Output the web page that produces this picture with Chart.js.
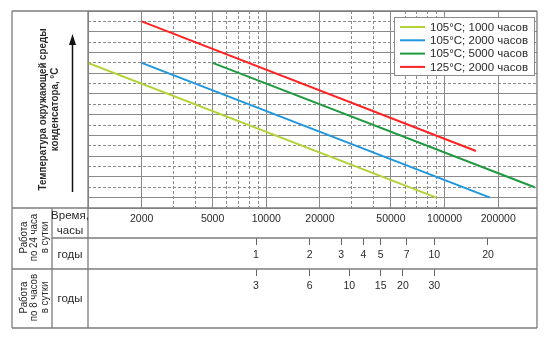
<!DOCTYPE html>
<html>
<head>
<meta charset="utf-8">
<script src="https://cdn.jsdelivr.net/npm/chart.js@4.4.1/dist/chart.umd.min.js"></script>
<style>
  html, body { margin: 0; padding: 0; background: #fff; }
  #wrap { width: 550px; height: 340px; position: relative; }
</style>
</head>
<body>
<div id="wrap"><canvas id="chart"></canvas></div>
<script>
// ось времени, часы (логарифмическая)
const hourMin = 1000;
const hourMax = 330000;
const hourTicks = [1000, 2000, 3000, 4000, 5000, 6000, 7000, 8000, 9000,
    10000, 20000, 30000, 40000, 50000, 60000, 70000, 80000, 90000, 100000, 200000];
const hourLabels = [2000, 5000, 10000, 20000, 50000, 100000, 200000];

// годы работы
const years24 = [1, 2, 3, 4, 5, 7, 10, 20];
const years8 = [3, 6, 10, 15, 20, 30];
const hoursPerYear24 = 8760;
const hoursPerYear8 = 2920;

// температура, шаг сетки 5 °C
const tempMin = 35;
const tempMax = 130;
const tempStep = 5;

// серии
const seriesNames = ['105°C; 1000 часов', '105°C; 2000 часов', '105°C; 5000 часов', '125°C; 2000 часов'];
const seriesHours = [[1000, 90000], [2000, 180000], [5000, 320000], [2000, 150000]];
const seriesTemps = [[105, 40], [105, 40], [105, 45], [125, 62.5]];
const seriesColors = ['#b2d235', '#1e96dc', '#1f9a40', '#ff2222'];

const gridColor = '#8a8a8a';
const lineColor = '#7c7c7c';
const textColor = '#2a2a2a';
const FONT = '"Liberation Sans", Arial, sans-serif';

Chart.defaults.font.family = FONT;
Chart.defaults.color = textColor;

function isMajor(v) {
    const m = Math.round(v / Math.pow(10, Math.floor(Math.log10(v) + 1e-9)));
    return m === 1 || m === 2 || m === 5;
}

// сетка: пунктир для промежуточных линий
function xDash(ctx) {
    if (!ctx.tick) return [];
    return isMajor(ctx.tick.value) ? [] : [3, 2];
}
function yDash(ctx) {
    if (!ctx.tick) return [];
    const level = Math.round((ctx.tick.value - tempMin) / tempStep);
    if (level === 0 || ctx.tick.value >= tempMax) return [];
    return level % 2 === 0 ? [3, 2] : [];
}

const datasets = seriesNames.map((name, i) => ({
    label: name,
    data: seriesHours[i].map((h, j) => ({x: h, y: seriesTemps[i][j]})),
    borderColor: seriesColors[i],
    backgroundColor: seriesColors[i],
    borderWidth: 2,
    pointRadius: 0,
    fill: false,
    xAxisID: 'x',
    yAxisID: 'y'
}));

// вертикальный текст, sq - сжатие вдоль строки
function vText(ctx, text, x, y, sq) {
    ctx.save();
    ctx.translate(x, y);
    ctx.rotate(-Math.PI / 2);
    ctx.scale(sq || 1, 1);
    ctx.textAlign = 'center';
    ctx.textBaseline = 'middle';
    ctx.fillText(text, 0, 0);
    ctx.restore();
}

function hLine(ctx, x1, x2, y) {
    ctx.beginPath(); ctx.moveTo(x1, y); ctx.lineTo(x2, y); ctx.stroke();
}
function vLine(ctx, x, y1, y2) {
    ctx.beginPath(); ctx.moveTo(x, y1); ctx.lineTo(x, y2); ctx.stroke();
}

// легенда в правом верхнем углу
const legendPlugin = {
    id: 'boxLegend',
    afterDatasetsDraw(chart) {
        const ctx = chart.ctx;
        const a = chart.chartArea;
        const w = 141, h = 59;
        const left = a.right - 2 - w, top = a.top + 6;
        ctx.save();
        ctx.fillStyle = '#fff';
        ctx.fillRect(left, top, w, h);
        ctx.strokeStyle = '#8c8c8c';
        ctx.lineWidth = 1;
        ctx.strokeRect(left + 0.5, top + 0.5, w - 1, h - 1);
        ctx.font = '11.5px ' + FONT;
        ctx.textBaseline = 'middle';
        ctx.textAlign = 'left';
        chart.data.datasets.forEach((ds, i) => {
            const y = top + 10 + i * 13.3;
            ctx.strokeStyle = ds.borderColor;
            ctx.lineWidth = 2;
            hLine(ctx, left + 6, left + 31, y);
            ctx.fillStyle = textColor;
            ctx.fillText(ds.label, left + 36, y + 0.5);
        });
        ctx.restore();
    }
};

// рамка таблицы и подписи
const tablePlugin = {
    id: 'table',
    afterDraw(chart) {
        const ctx = chart.ctx;
        const a = chart.chartArea;
        const x2 = chart.scales.x2, x3 = chart.scales.x3;
        const L = 12, C = 52;
        const bottom = x3.bottom;
        ctx.save();
        ctx.strokeStyle = lineColor;
        ctx.lineWidth = 1.3;
        hLine(ctx, L, a.right, a.top);
        hLine(ctx, L, a.right, a.bottom);
        hLine(ctx, C, a.right, x2.top);
        hLine(ctx, L, a.right, x3.top);
        hLine(ctx, L, a.right, bottom);
        vLine(ctx, L, a.top, bottom);
        vLine(ctx, C, a.bottom, bottom);
        vLine(ctx, a.left, a.top, bottom);
        vLine(ctx, a.right, a.top, bottom);

        ctx.fillStyle = textColor;
        ctx.font = 'bold 10.5px ' + FONT;
        const midY = (a.top + a.bottom) / 2;
        vText(ctx, 'Температура окружающей среды', 43.5, midY, 0.93);
        vText(ctx, 'конденсатора, °С', 55, midY, 0.93);

        // стрелка
        ctx.strokeStyle = '#111';
        ctx.fillStyle = '#111';
        ctx.lineWidth = 1.5;
        vLine(ctx, 72.5, a.bottom - 16, a.top + 32);
        ctx.beginPath();
        ctx.moveTo(72.5, a.top + 23);
        ctx.lineTo(69, a.top + 34);
        ctx.lineTo(76, a.top + 34);
        ctx.closePath();
        ctx.fill();

        ctx.fillStyle = textColor;
        ctx.font = '11px ' + FONT;
        const r1 = (a.bottom + x3.top) / 2 - 1;
        vText(ctx, 'Работа', 23.5, r1, 0.88);
        vText(ctx, 'по 24 часа', 34, r1, 0.88);
        vText(ctx, 'в сутки', 44.5, r1, 0.88);
        const r2 = (x3.top + bottom) / 2 - 1;
        vText(ctx, 'Работа', 23.5, r2, 0.88);
        vText(ctx, 'по 8 часов', 34, r2, 0.88);
        vText(ctx, 'в сутки', 44.5, r2, 0.88);

        ctx.textAlign = 'center';
        ctx.textBaseline = 'middle';
        ctx.font = '11.5px ' + FONT;
        const cx = (C + a.left) / 2;
        ctx.fillText('Время,', cx, a.bottom + 8);
        ctx.fillText('часы', cx, a.bottom + 23);
        ctx.fillText('годы', cx, (x2.top + x3.top) / 2 + 1);
        ctx.fillText('годы', cx, r2 + 1);
        ctx.restore();
    }
};

function yearAxis(years, perYear, weight, height, pad) {
    return {
        type: 'logarithmic',
        position: 'bottom',
        weight: weight,
        min: hourMin,
        max: hourMax,
        bounds: 'data',
        afterBuildTicks: (scale) => {
            scale.ticks = years.map(y => ({value: y * perYear}));
        },
        afterFit: (scale) => { scale.height = height; },
        grid: {
            display: true,
            drawOnChartArea: false,
            drawTicks: true,
            tickLength: 7,
            tickColor: '#666',
            tickWidth: 1
        },
        border: {display: false},
        ticks: {
            autoSkip: false,
            maxRotation: 0,
            padding: pad,
            font: {size: 10.5},
            callback: (value) => String(Math.round(value / perYear))
        }
    };
}

new Chart(document.getElementById('chart'), {
    type: 'line',
    data: {datasets: datasets},
    plugins: [legendPlugin, tablePlugin],
    options: {
        responsive: true,
        maintainAspectRatio: false,
        animation: false,
        layout: {padding: {left: 88, right: 13, top: 11, bottom: 12}},
        plugins: {legend: {display: false}, tooltip: {enabled: false}},
        scales: {
            x: {
                type: 'logarithmic',
                position: 'bottom',
                weight: 0,
                min: hourMin,
                max: hourMax,
                bounds: 'data',
                afterBuildTicks: (scale) => {
                    scale.ticks = hourTicks.map(v => ({value: v}));
                },
                afterFit: (scale) => { scale.height = 30; },
                grid: {color: gridColor, lineWidth: 1, drawTicks: false},
                border: {display: false, dash: xDash},
                ticks: {
                    autoSkip: false,
                    maxRotation: 0,
                    padding: 5,
                    font: {size: 10.5},
                    callback: (value) => hourLabels.includes(value) ? String(value) : ''
                }
            },
            x2: yearAxis(years24, hoursPerYear24, 1, 31, 4),
            x3: yearAxis(years8, hoursPerYear8, 2, 59, 4),
            y: {
                type: 'linear',
                min: tempMin,
                max: tempMax,
                afterFit: (scale) => { scale.width = 0; },
                grid: {color: gridColor, lineWidth: 1, drawTicks: false},
                border: {display: false, dash: yDash},
                ticks: {display: false, stepSize: tempStep}
            }
        }
    }
});
</script>
</body>
</html>
